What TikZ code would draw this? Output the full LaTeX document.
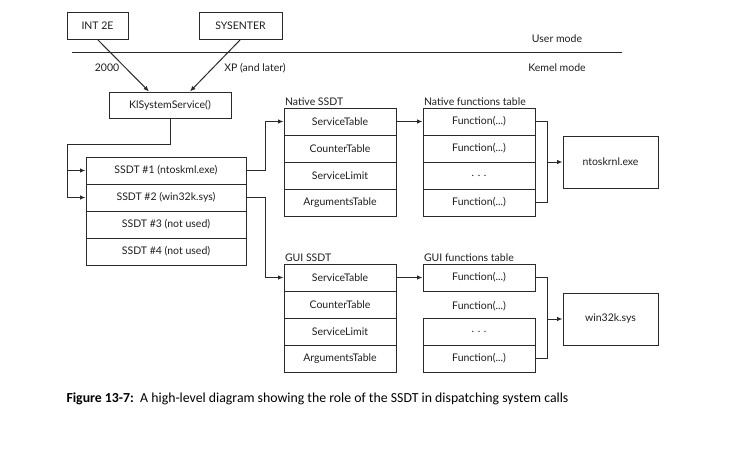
\documentclass[tikz,border=0pt]{standalone}
\usepackage{fontspec}
\setmainfont{Lato}
\newfontfamily\capfont{Carlito}
\usetikzlibrary{arrows.meta}
\definecolor{ink}{HTML}{2A2A2A}
\definecolor{txt}{HTML}{1E1E1E}
\begin{document}
\begin{tikzpicture}[x=1pt,y=-1pt,
  line width=1pt,
  lbl/.style={font=\fontsize{10.5}{12}\selectfont, text=txt, inner sep=1pt},
  cell/.style={lbl, draw=ink, minimum width=112pt, minimum height=27pt, inner sep=0pt},
  scell/.style={cell, minimum width=160pt},
  obox/.style={lbl, draw=ink, inner sep=0pt},
  arr/.style={draw=ink, -{Latex[length=5.5pt,width=4.5pt]}},
  conn/.style={draw=ink}]
\useasboundingbox (0,0) rectangle (750,450);

% top boxes
\node[obox, minimum width=61pt, minimum height=27pt] (int) at (97.5,25.5) {INT 2E};
\node[obox, minimum width=83pt, minimum height=27pt] (sys) at (240.5,25.5) {SYSENTER};
\coordinate (la) at (72,52);
\coordinate (lb) at (622,52);
\draw[conn] (la) -- (lb);
\node[lbl] (um) at (557,39) {User mode};
\node[lbl] (km) at (557,68) {Kemel mode};
\node[lbl] (l2000) at (107,68) {2000};
\node[lbl] (lxp) at (255,68) {XP (and later)};
\node[obox, minimum width=122pt, minimum height=26pt] (ki) at (170,105) {KlSystemService()};
\draw[arr] (int.south) -- ([xshift=-21pt]ki.north);
\draw[arr] (sys.south) -- ([xshift=20pt]ki.north);

% SSDT stack
\node[scell] (s1) at (166,170.5) {SSDT \#1 (ntoskml.exe)};
\node[scell] (s2) at (166,197.5) {SSDT \#2 (win32k.sys)};
\node[scell] (s3) at (166,224.5) {SSDT \#3 (not used)};
\node[scell] (s4) at (166,251.5) {SSDT \#4 (not used)};
\coordinate (jn) at (67,144);
\draw[conn] (ki.south) |- (jn) -- (jn |- s2.west);
\draw[arr] (jn |- s1.west) -- (s1.west);
\draw[arr] (jn |- s2.west) -- (s2.west);

% Native SSDT
\node[cell] (n1) at (340,121.5) {ServiceTable};
\node[cell] (n2) at (340,148.5) {CounterTable};
\node[cell] (n3) at (340,175.5) {ServiceLimit};
\node[cell] (n4) at (340,202.5) {ArgumentsTable};
\node[lbl, anchor=south west] (nl) at (n1.north west) {Native SSDT};

% Native functions table
\node[cell] (f1) at (479,121.5) {Function(...)};
\node[cell] (f2) at (479,148.5) {Function(...)};
\node[cell] (f3) at (479,175.5) {. . .};
\node[cell] (f4) at (479,202.5) {Function(...)};
\node[lbl, anchor=south west] (fl) at (f1.north west) {Native functions table};
\node[obox, minimum width=95pt, minimum height=52pt] (nt) at (610.5,162) {ntoskrnl.exe};

% GUI SSDT
\node[cell] (g1) at (340,277.5) {ServiceTable};
\node[cell] (g2) at (340,304.5) {CounterTable};
\node[cell] (g3) at (340,331.5) {ServiceLimit};
\node[cell] (g4) at (340,358.5) {ArgumentsTable};
\node[lbl, anchor=south west] (gl) at (g1.north west) {GUI SSDT};

% GUI functions table
\node[cell] (h1) at (479,277.5) {Function(...)};
\node[lbl] (h2) at (479,306) {Function(...)};
\node[cell] (h3) at (479,331.5) {. . .};
\node[cell] (h4) at (479,358.5) {Function(...)};
\node[lbl, anchor=south west] (hl) at (h1.north west) {GUI functions table};
\node[obox, minimum width=95pt, minimum height=52pt] (wk) at (610.5,319) {win32k.sys};

% connectors
\draw[arr] (s1.east) -- ++(19,0) |- (n1.west);
\draw[arr] (s2.east) -- ++(19,0) |- (g1.west);
\draw[arr] (n1.east) -- (f1.west);
\draw[arr] (g1.east) -- (h1.west);
\coordinate (bx1) at (547,121.5);
\coordinate (bx2) at (547,277.5);
\draw[conn] (f1.east) -- (bx1) |- (f4.east);
\draw[arr] (bx1 |- nt.west) -- (nt.west);
\draw[conn] (h1.east) -- (bx2) |- (h4.east);
\draw[arr] (bx2 |- wk.west) -- (wk.west);

% caption
\node[anchor=west, inner sep=0pt, text=black, font=\capfont\fontsize{13.8}{16}\selectfont] (cap) at (66,399)
  {\textbf{Figure 13-7:}\ \ A high-level diagram showing the role of the SSDT in dispatching system calls};
\end{tikzpicture}
\end{document}
